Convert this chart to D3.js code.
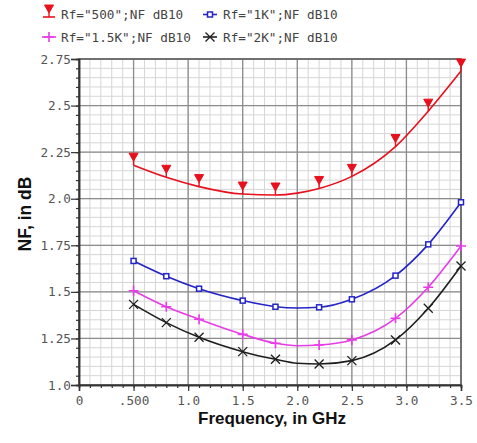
<!DOCTYPE html>
<html>
<head>
<meta charset="utf-8">
<script src="https://cdn.jsdelivr.net/npm/d3@7"></script>
<style>
  html, body { margin: 0; padding: 0; background: #fff; }
  svg { display: block; }
</style>
</head>
<body>
<svg id="chart" width="477" height="443"></svg>
<script>
// Noise figure vs. frequency for four feedback resistor values
const freqs = [0.5, 0.8, 1.1, 1.5, 1.8, 2.0, 2.2, 2.5, 2.9, 3.2, 3.5];
const markerFreqs = [0.5, 0.8, 1.1, 1.5, 1.8, 2.2, 2.5, 2.9, 3.2, 3.5];
const nf500 = [2.18, 2.115, 2.065, 2.025, 2.02, 2.03, 2.055, 2.12, 2.28, 2.47, 2.685];
const nf1k = [1.666, 1.584, 1.517, 1.453, 1.42, 1.413, 1.417, 1.46, 1.587, 1.755, 1.981];
const nf15k = [1.506, 1.42, 1.353, 1.272, 1.224, 1.211, 1.215, 1.242, 1.358, 1.525, 1.746];
const nf2k = [1.433, 1.335, 1.256, 1.179, 1.138, 1.117, 1.113, 1.131, 1.242, 1.412, 1.639];
const seriesNames = ['Rf="500";NF dB10', 'Rf="1K";NF dB10', 'Rf="1.5K";NF dB10', 'Rf="2K";NF dB10'];
const xTickValues = [0, 0.5, 1.0, 1.5, 2.0, 2.5, 3.0, 3.5];
const xTickLabels = ["0", ".500", "1.0", "1.5", "2.0", "2.5", "3.0", "3.5"];
const yTickValues = [1.0, 1.25, 1.5, 1.75, 2.0, 2.25, 2.5, 2.75];
const yTickLabels = ["1.0", "1.25", "1.5", "1.75", "2.0", "2.25", "2.5", "2.75"];

const series = [
  { name: seriesNames[0], values: nf500, color: "#e8101c", marker: "tri" },
  { name: seriesNames[1], values: nf1k, color: "#2424c8", marker: "square" },
  { name: seriesNames[2], values: nf15k, color: "#e83ce6", marker: "plus" },
  { name: seriesNames[3], values: nf2k, color: "#1e1e1e", marker: "cross" }
];

const svg = d3.select("#chart");
const plotLeft = 79, plotRight = 461, plotTop = 59, plotBottom = 385;
const x = d3.scaleLinear().domain([0, 3.5]).range([plotLeft, plotRight]);
const y = d3.scaleLinear().domain([1.0, 2.75]).range([plotBottom, plotTop]);
const monoFont = "'DejaVu Sans Mono', 'Liberation Mono', monospace";

svg.append("rect").attr("width", 477).attr("height", 443).attr("fill", "#fff");

// grid
const grid = svg.append("g");
const minorX = d3.range(0, 35.5, 1).map(v => v / 10);
const minorY = d3.range(100, 275.5, 5).map(v => v / 100);
grid.selectAll(".mx").data(minorX).join("line")
  .attr("class", "mx")
  .attr("x1", d => x(d)).attr("x2", d => x(d)).attr("y1", plotTop).attr("y2", plotBottom)
  .attr("stroke", "#d6d6d6").attr("stroke-width", 1);
grid.selectAll(".my").data(minorY).join("line")
  .attr("class", "my")
  .attr("x1", plotLeft).attr("x2", plotRight).attr("y1", d => y(d)).attr("y2", d => y(d))
  .attr("stroke", "#d6d6d6").attr("stroke-width", 1);
grid.selectAll(".Mx").data(xTickValues).join("line")
  .attr("class", "Mx")
  .attr("x1", d => x(d)).attr("x2", d => x(d)).attr("y1", plotTop).attr("y2", plotBottom)
  .attr("stroke", "#8c8c8c").attr("stroke-width", 1.3);
grid.selectAll(".My").data(yTickValues).join("line")
  .attr("class", "My")
  .attr("x1", plotLeft).attr("x2", plotRight).attr("y1", d => y(d)).attr("y2", d => y(d))
  .attr("stroke", "#8c8c8c").attr("stroke-width", 1.3);

// frame
svg.append("rect").attr("x", plotLeft).attr("y", plotTop)
  .attr("width", plotRight - plotLeft).attr("height", plotBottom - plotTop)
  .attr("fill", "none").attr("stroke", "#555").attr("stroke-width", 1.3);

// axes
function styleAxis(g) {
  g.select(".domain").attr("stroke", "#333").attr("stroke-width", 1.5);
  g.selectAll(".tick line").attr("stroke", "#333").attr("stroke-width", 1.2);
  g.selectAll(".tick text").attr("fill", "#555").attr("font-family", monoFont).attr("font-size", "12.7px");
}
const xMinor = svg.append("g").attr("transform", `translate(0,${plotBottom})`)
  .call(d3.axisBottom(x).tickValues(minorX).tickSize(3).tickFormat(""));
styleAxis(xMinor);
const yMinor = svg.append("g").attr("transform", `translate(${plotLeft},0)`)
  .call(d3.axisLeft(y).tickValues(minorY).tickSize(3).tickFormat(""));
styleAxis(yMinor);
const xAxis = svg.append("g").attr("transform", `translate(0,${plotBottom})`)
  .call(d3.axisBottom(x).tickValues(xTickValues).tickSize(6).tickPadding(5)
    .tickFormat((d, i) => xTickLabels[i]));
styleAxis(xAxis);
const yAxis = svg.append("g").attr("transform", `translate(${plotLeft},0)`)
  .call(d3.axisLeft(y).tickValues(yTickValues).tickSize(8).tickPadding(0)
    .tickFormat((d, i) => yTickLabels[i]));
styleAxis(yAxis);

// axis titles
svg.append("text").attr("x", 272).attr("y", 424).attr("text-anchor", "middle")
  .attr("font-family", "'Liberation Sans', Arial, sans-serif").attr("font-weight", "bold")
  .attr("font-size", "17px").attr("fill", "#111").text("Frequency, in GHz");
svg.append("text").attr("transform", "translate(31,214) rotate(-90)").attr("text-anchor", "middle")
  .attr("font-family", "'Liberation Sans', Arial, sans-serif").attr("font-weight", "bold")
  .attr("font-size", "17.5px").attr("fill", "#111").text("NF, in dB");

// marker shapes, anchored at the data point
function drawMarker(g, kind, cx, cy, color) {
  if (kind === "tri") {
    g.append("path").attr("d", `M${cx - 4.5},${cy - 12}L${cx + 4.5},${cy - 12}L${cx},${cy - 4}Z`)
      .attr("fill", color).attr("stroke", color).attr("stroke-width", 1);
    g.append("line").attr("x1", cx).attr("x2", cx).attr("y1", cy - 5).attr("y2", cy)
      .attr("stroke", color).attr("stroke-width", 1.4);
  } else if (kind === "square") {
    g.append("rect").attr("x", cx - 2.5).attr("y", cy - 2.5).attr("width", 5).attr("height", 5)
      .attr("fill", "#fff").attr("stroke", color).attr("stroke-width", 1.5);
  } else if (kind === "plus") {
    g.append("path").attr("d", `M${cx - 5},${cy}H${cx + 5}M${cx},${cy - 5}V${cy + 5}`)
      .attr("stroke", color).attr("stroke-width", 1.6).attr("fill", "none");
  } else {
    g.append("path").attr("d", `M${cx - 4.5},${cy - 4.5}L${cx + 4.5},${cy + 4.5}M${cx - 4.5},${cy + 4.5}L${cx + 4.5},${cy - 4.5}`)
      .attr("stroke", color).attr("stroke-width", 1.3).attr("fill", "none");
  }
}

// traces
const line = d3.line().x(d => x(d[0])).y(d => y(d[1])).curve(d3.curveMonotoneX);
series.forEach(s => {
  const pts = freqs.map((f, i) => [f, s.values[i]]);
  svg.append("path").datum(pts).attr("d", line)
    .attr("fill", "none").attr("stroke", s.color).attr("stroke-width", 1.6);
  const mg = svg.append("g");
  pts.filter(p => markerFreqs.includes(p[0]))
    .forEach(p => drawMarker(mg, s.marker, x(p[0]), y(p[1]), s.color));
});

// legend
const legendPos = [[49, 19, 61], [210, 19, 223], [49, 41.5, 61], [210, 41.5, 223]];
series.forEach((s, i) => {
  const [mx, by, tx] = legendPos[i];
  const g = svg.append("g");
  if (s.marker === "tri") {
    g.append("line").attr("x1", mx - 6).attr("x2", mx + 6).attr("y1", by - 2).attr("y2", by - 2)
      .attr("stroke", s.color).attr("stroke-width", 1.6);
    drawMarker(g, s.marker, mx, by - 2, s.color);
  } else {
    g.append("line").attr("x1", mx - 7).attr("x2", mx + 7).attr("y1", by - 4.5).attr("y2", by - 4.5)
      .attr("stroke", s.color).attr("stroke-width", 1.6);
    drawMarker(g, s.marker, mx, by - 4.5, s.color);
  }
  g.append("text").attr("x", tx).attr("y", by).attr("font-family", monoFont)
    .attr("font-size", "12.7px").attr("fill", "#444").text(s.name);
});
</script>
</body>
</html>
